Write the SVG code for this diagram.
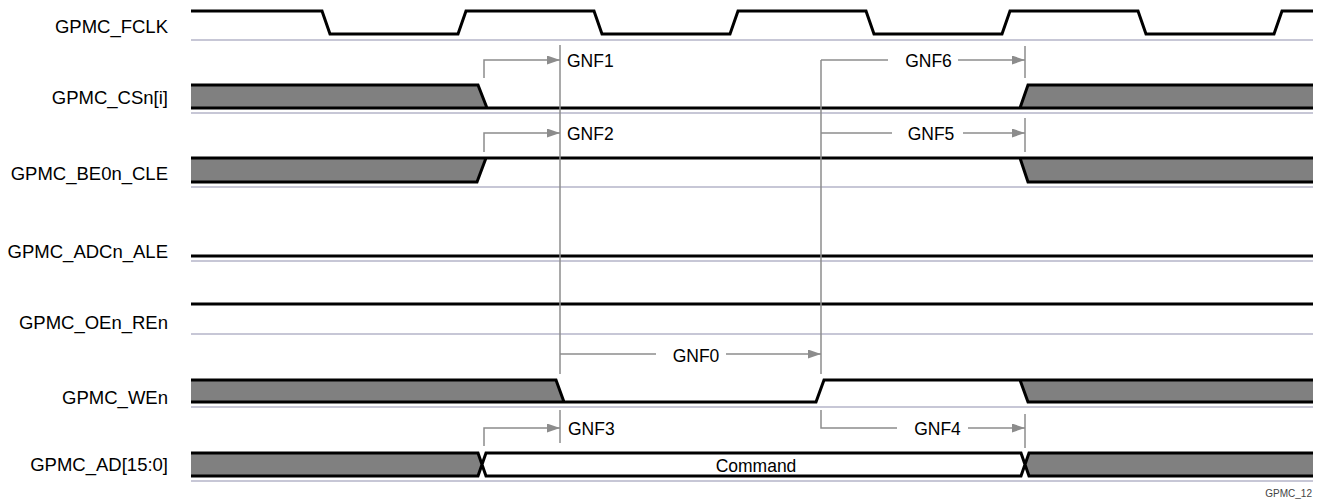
<svg xmlns="http://www.w3.org/2000/svg" width="1317" height="500" viewBox="0 0 1317 500">
<style>
.sig{fill:none;stroke:#000;stroke-width:3;stroke-linejoin:miter}
.band{fill:#808080;stroke:none}
.sep{stroke:#b4b4c8;stroke-width:1.5}
.ref{fill:none;stroke:#8c8c8c;stroke-width:1.5}
.lbl{font-family:"Liberation Sans",Arial,sans-serif;font-size:18.5px;text-anchor:end;fill:#000}
.gnf{font-family:"Liberation Sans",Arial,sans-serif;font-size:17.5px;fill:#000}
.mid{text-anchor:middle}
</style>
<defs>
<marker id="ah" markerUnits="userSpaceOnUse" markerWidth="13" markerHeight="9" refX="13" refY="4.5" orient="auto">
<path d="M0,0 L13,4.5 L0,9 z" fill="#8c8c8c"/>
</marker>
</defs>
<rect width="1317" height="500" fill="#fff"/>

<g id="fclk">
<text class="lbl" x="168" y="33">GPMC_FCLK</text>
<line class="sep" x1="191" y1="40" x2="1313" y2="40"/>
<path class="sig" d="M191,11 H322 L330,34 H458 L466,11 H594 L602,34 H730 L738,11 H866 L874,34 H1002 L1010,11 H1138 L1146,34 H1274 L1282,11 H1313"/>
</g>

<g id="csn">
<text class="lbl" x="168" y="104">GPMC_CSn[i]</text>
<line class="sep" x1="191" y1="113" x2="1313" y2="113"/>
<polygon class="band" points="191,85 478,85 487,108 191,108"/>
<polygon class="band" points="1020,108 1028,85 1313,85 1313,108"/>
<path class="sig" d="M191,85 H478 L487,108 M1020,108 L1028,85 H1313 M191,108 H1313"/>
</g>

<g id="be0n">
<text class="lbl" x="168" y="180">GPMC_BE0n_CLE</text>
<line class="sep" x1="191" y1="187" x2="1313" y2="187"/>
<polygon class="band" points="191,158 486,158 477,182 191,182"/>
<polygon class="band" points="1020,158 1313,158 1313,182 1028,182"/>
<path class="sig" d="M191,158 H1313 M191,182 H477 L486,158 M1020,158 L1028,182 H1313"/>
</g>

<g id="adcn">
<text class="lbl" x="168" y="258">GPMC_ADCn_ALE</text>
<line class="sep" x1="191" y1="261" x2="1313" y2="261"/>
<path class="sig" d="M191,256 H1313"/>
</g>

<g id="oen">
<text class="lbl" x="168" y="329">GPMC_OEn_REn</text>
<line class="sep" x1="191" y1="334" x2="1313" y2="334"/>
<path class="sig" d="M191,304 H1313"/>
</g>

<g id="wen">
<text class="lbl" x="168" y="404">GPMC_WEn</text>
<line class="sep" x1="191" y1="407" x2="1313" y2="407"/>
<polygon class="band" points="191,380 556,380 564,402 191,402"/>
<polygon class="band" points="1020,380 1313,380 1313,402 1028,402"/>
<path class="sig" d="M191,380 H556 L564,402 H816 L824,380 H1313 M191,402 H564 M1020,380 L1028,402 H1313"/>
</g>

<g id="ad">
<text class="lbl" x="168" y="471">GPMC_AD[15:0]</text>
<line class="sep" x1="191" y1="481" x2="1313" y2="481"/>
<polygon class="band" points="191,453 478,453 482,464.5 478,476 191,476"/>
<polygon class="band" points="1029,453 1313,453 1313,476 1029,476 1025,464.5"/>
<path class="sig" d="M191,453 H478 L486,476 H1021 L1029,453 H1313 M191,476 H478 L486,453 H1021 L1029,476 H1313"/>
<text class="gnf mid" x="756" y="472">Command</text>
</g>

<g id="connectors">
<path class="ref" d="M560,45 V374"/>
<path class="ref" d="M821,60 V374"/>
<path class="ref" d="M484,78 V60 H560" marker-end="url(#ah)"/>
<text class="gnf" x="567" y="67">GNF1</text>
<path class="ref" d="M484,152 V133 H560" marker-end="url(#ah)"/>
<text class="gnf" x="567" y="140">GNF2</text>
<path class="ref" d="M821,60 H888"/>
<text class="gnf mid" x="928.5" y="67">GNF6</text>
<path class="ref" d="M958,60 H1025" marker-end="url(#ah)"/>
<path class="ref" d="M1025,46 V78"/>
<path class="ref" d="M821,133 H892"/>
<text class="gnf mid" x="931" y="140">GNF5</text>
<path class="ref" d="M963,133 H1025" marker-end="url(#ah)"/>
<path class="ref" d="M1025,118 V152"/>
<path class="ref" d="M560,354 H656"/>
<text class="gnf mid" x="696" y="362">GNF0</text>
<path class="ref" d="M726,354 H821" marker-end="url(#ah)"/>
<path class="ref" d="M484,446 V428 H560" marker-end="url(#ah)"/>
<path class="ref" d="M560,410 V443"/>
<text class="gnf" x="568" y="435">GNF3</text>
<path class="ref" d="M821,410 V428 H897"/>
<text class="gnf mid" x="937.5" y="435">GNF4</text>
<path class="ref" d="M968,428 H1025" marker-end="url(#ah)"/>
<path class="ref" d="M1025,414 V448"/>
</g>

<text x="1312" y="497" font-family="Liberation Sans,Arial,sans-serif" font-size="10" text-anchor="end" fill="#444">GPMC_12</text>
</svg>
